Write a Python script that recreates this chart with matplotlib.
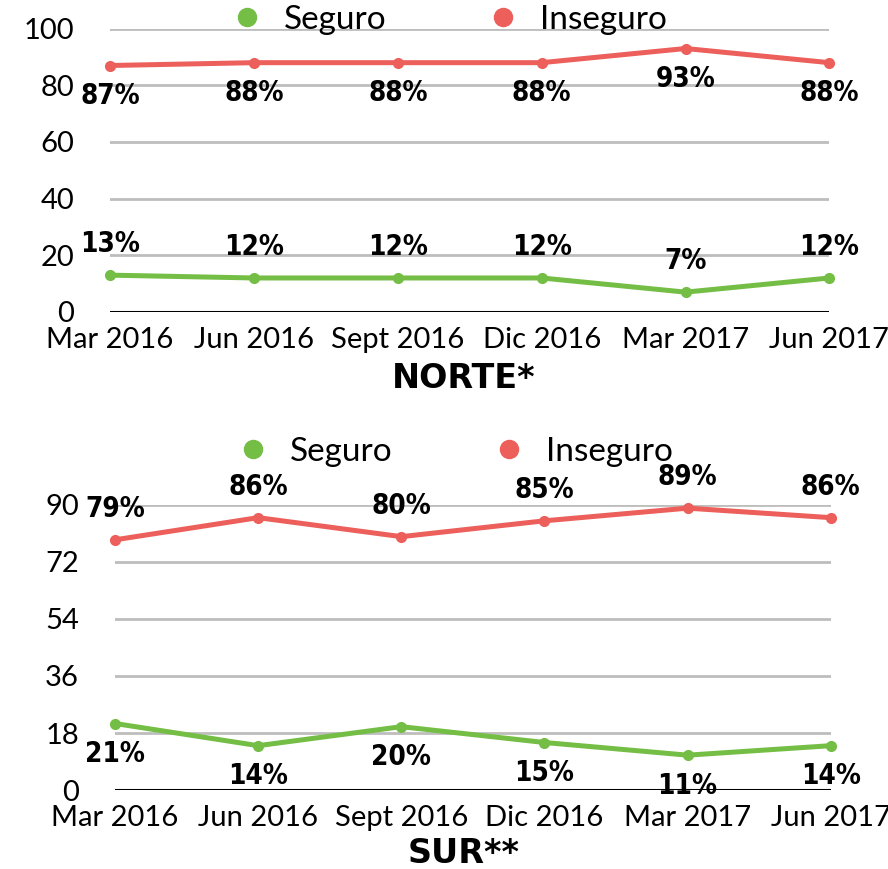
import numpy as np
import matplotlib.pyplot as plt
from matplotlib.lines import Line2D

periodos = ['Mar 2016', 'Jun 2016', 'Sept 2016', 'Dic 2016', 'Mar 2017', 'Jun 2017']
norte_seguro = [13, 12, 12, 12, 7, 12]
norte_inseguro = [87, 88, 88, 88, 93, 88]
sur_seguro = [21, 14, 20, 15, 11, 14]
sur_inseguro = [79, 86, 80, 85, 89, 86]

verde = '#74BE45'
rojo = '#EC5F5A'
thin = ['Lato', 'DejaVu Sans']

fig = plt.figure(figsize=(8.88, 8.69), dpi=100)


def etiqueta(ax, xi, v, arriba):
    ax.annotate(f'{v}%', (xi, v), xytext=(0, 12 if arriba else -12),
                textcoords='offset points', ha='center',
                va='bottom' if arriba else 'top', fontsize=20, fontweight='bold',
                fontstretch='condensed', family='DejaVu Sans', color='black')


def panel(rect, seg, inseg, yticks, seg_above, titulo, title_y, leg_y, leg_x):
    ax = fig.add_axes(rect)
    x = np.arange(len(periodos))
    ax.set_xlim(0, len(periodos) - 1)
    ax.set_ylim(yticks[0], yticks[-1])
    for t in yticks[1:]:
        ax.axhline(t, color='#BDBDBD', lw=2, zorder=0)
    ax.axhline(0, color='black', lw=2.2, zorder=1)
    ax.plot(x, seg, color=verde, lw=3.6, marker='o', ms=7, clip_on=False, zorder=3)
    ax.plot(x, inseg, color=rojo, lw=3.6, marker='o', ms=7, clip_on=False, zorder=3)
    for xi, v in zip(x, seg):
        etiqueta(ax, xi, v, seg_above)
    for xi, v in zip(x, inseg):
        etiqueta(ax, xi, v, not seg_above)
    ax.set_xticks(x)
    ax.set_xticklabels(periodos, fontsize=21, family=thin, color='black')
    ax.set_yticks(yticks)
    ax.set_yticklabels([str(t) for t in yticks], fontsize=21, family=thin, color='black')
    ax.tick_params(axis='x', length=0, pad=11)
    ax.tick_params(axis='y', length=0, pad=26)
    for s in ax.spines.values():
        s.set_visible(False)
    fig.text(0.522, title_y, titulo, ha='center', va='center', fontsize=24,
             fontweight='bold', family='DejaVu Sans')
    handles = [Line2D([], [], color=verde, lw=0, marker='o', ms=13),
               Line2D([], [], color=rojo, lw=0, marker='o', ms=13)]
    ax.legend(handles, ['Seguro', 'Inseguro'], loc='center',
              bbox_to_anchor=(leg_x, leg_y), bbox_transform=fig.transFigure,
              ncol=2, frameon=False, handlelength=1.0, columnspacing=3.0,
              handletextpad=0.6, prop={'family': thin, 'size': 24})
    return ax


panel([0.124, 0.641, 0.81, 0.326], norte_seguro, norte_inseguro,
      [0, 20, 40, 60, 80, 100], True, 'NORTE*', 0.564, 0.977, 0.505)
panel([0.1295, 0.0909, 0.806, 0.328], sur_seguro, sur_inseguro,
      [0, 18, 36, 54, 72, 90], False, 'SUR**', 0.018, 0.480, 0.512)

fig.savefig('out.png', dpi=100)
